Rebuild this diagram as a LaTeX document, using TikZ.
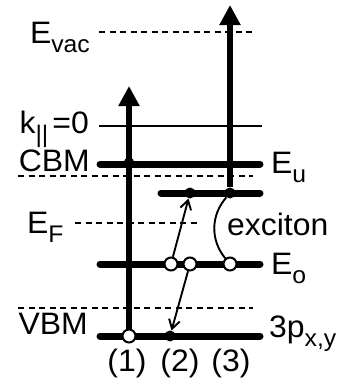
\documentclass[tikz,border=0pt]{standalone}
\usepackage{fontspec}
\setmainfont{Liberation Sans}[FakeStretch=1.03]
\usetikzlibrary{arrows.meta}
\newcommand{\lsub}[1]{\raisebox{-9pt}{\fontsize{24}{24}\selectfont #1}}

\begin{document}
\begin{tikzpicture}[x=1pt, y=-1pt,
    level/.style={line width=7pt, line cap=round},
    guide/.style={line width=1.6pt, dash pattern=on 6pt off 4.5pt},
    lbl/.style={font=\fontsize{31}{36}\selectfont, inner sep=0pt},
    dot/.style={circle, fill=black, inner sep=0pt, minimum size=11pt},
    hole/.style={circle, draw=black, fill=white, line width=2pt, inner sep=0pt, minimum size=13pt},
    uparrow/.style={-{Triangle[length=20pt,width=20pt]}, line width=5.5pt},
    hop/.style={-{Straight Barb[length=9pt,width=11pt]}, line width=1.9pt},
  ]
    \useasboundingbox (0,0) rectangle (341,386);
    \draw[guide] (99,32) -- (253,32);
    \draw[line width=2.6pt] (99,126) -- (262,126);
    \draw[level] (100,164) -- (260,164);
    \draw[guide] (18,176) -- (253,176);
    \draw[level] (161,193) -- (260,193);
    \draw[guide] (75,223) -- (197,223);
    \draw[level] (100,264) -- (260,264);
    \draw[guide] (18,308) -- (253,308);
    \draw[level] (100,336) -- (260,336);

    \node[lbl, anchor=base east] (evac) at (90,43)  {E\lsub{vac}};
    \node[lbl, anchor=base east] (kpar) at (89,133) {k\lsub{||}\hspace{4pt}=0};
    \node[lbl, anchor=base east] (cbm)  at (90,171) {CBM};
    \node[lbl, anchor=base west] (ef)   at (27,233) {E\lsub{F}};
    \node[lbl, anchor=base east] (vbm)  at (88,334) {VBM};
    \node[lbl, anchor=base west] (eu)   at (271,173) {E\lsub{u}};
    \node[lbl, anchor=base west] (eo)   at (271,274) {E\lsub{o}};
    \node[lbl, anchor=base west] (p3)   at (269,337) {3p\lsub{x,y}};
    \node[lbl, anchor=base west] (exc)  at (227,235) {exciton};
    \node[lbl, anchor=base] (n1) at (127,371) {(1)};
    \node[lbl, anchor=base] (n2) at (180,371) {(2)};
    \node[lbl, anchor=base] (n3) at (231,371) {(3)};

    \node[dot]  (cb1) at (129,163) {};
    \node[hole] (vb1) at (129,336) {};
    \node[dot]  (eu2) at (190,193) {};
    \node[dot]  (eu3) at (230,193) {};
    \node[hole] (eoa) at (171,264) {};
    \node[hole] (eob) at (190,264) {};
    \node[hole] (eo3) at (230,264) {};
    \node[dot]  (vb2) at (170,336) {};
    \coordinate (top1) at (129,86);
    \coordinate (top3) at (230,5);

    \draw[uparrow] (vb1) -- (top1);
    \draw[uparrow] (eu3) -- (top3);
    \draw[hop] (eoa) -- (eu2);
    \draw[hop] (eob) -- (vb2);
    \draw[line width=1.9pt] (eu3) to[bend right=40] (eo3);
  \end{tikzpicture}
\end{document}
